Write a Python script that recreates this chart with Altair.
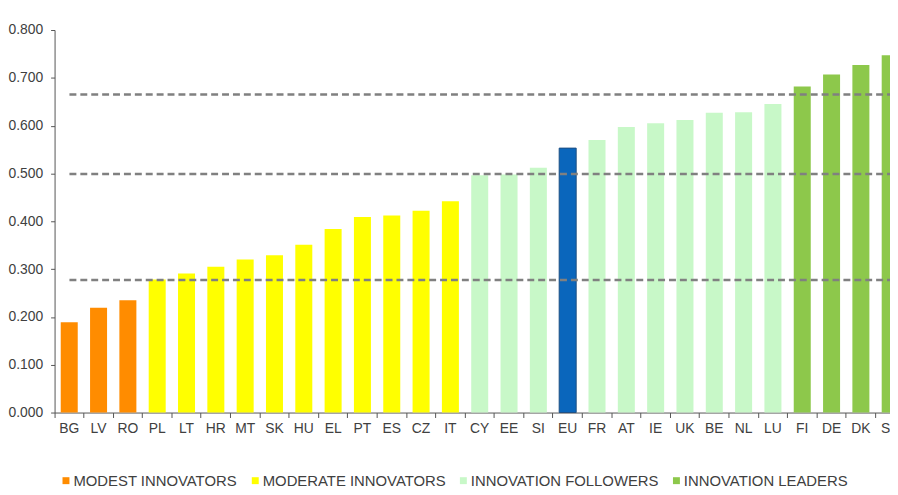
import altair as alt
import pandas as pd

countries = ["BG", "LV", "RO", "PL", "LT", "HR", "MT", "SK", "HU", "EL", "PT", "ES", "CZ", "IT",
             "CY", "EE", "SI", "EU", "FR", "AT", "IE", "UK", "BE", "NL", "LU", "FI", "DE", "DK", "SE"]
scores = [0.189, 0.219, 0.235, 0.278, 0.291, 0.305, 0.320, 0.329, 0.351, 0.384, 0.409, 0.412, 0.422, 0.442,
          0.496, 0.498, 0.512, 0.553, 0.570, 0.597, 0.605, 0.612, 0.627, 0.628, 0.645, 0.682, 0.707, 0.727, 0.747]
groups = (["MODEST INNOVATORS"] * 3 + ["MODERATE INNOVATORS"] * 11 + ["INNOVATION FOLLOWERS"] * 3
          + ["EU"] + ["INNOVATION FOLLOWERS"] * 7 + ["INNOVATION LEADERS"] * 4)

group_names = ["MODEST INNOVATORS", "MODERATE INNOVATORS", "INNOVATION FOLLOWERS", "INNOVATION LEADERS", "EU"]
group_colors = ["#FF8C00", "#FFFF00", "#C8F8C8", "#8DC84B", "#0A66BC"]

thresholds = [0.277, 0.499, 0.665]
y_ticks = [0.0, 0.1, 0.2, 0.3, 0.4, 0.5, 0.6, 0.7, 0.8]

bars_df = pd.DataFrame({"country": countries, "score": scores, "group": groups})
thr_df = pd.DataFrame({"t": thresholds})

FONT = "Liberation Sans"
TXT = "#404040"

xscale = alt.Scale(domain=countries, range=[0, 858], paddingInner=0, paddingOuter=0)
yscale = alt.Scale(domain=[0, 0.8])

bars = alt.Chart(bars_df).mark_bar(width=alt.RelativeBandSize(0.58), stroke="#1E4E82").encode(
    x=alt.X("country:N", sort=countries, scale=xscale, title=None,
            axis=alt.Axis(labelAngle=0, bandPosition=0, tickSize=5, labelFontSize=14,
                          labelPadding=4, labelColor=TXT, tickColor="#555555",
                          domainColor="#555555", labelFont=FONT)),
    y=alt.Y("score:Q", scale=yscale, title=None,
            axis=alt.Axis(values=y_ticks, format=".3f", grid=False, tickSize=4,
                          labelFontSize=14, labelPadding=8, labelColor=TXT,
                          tickColor="#555555", domainColor="#555555", labelFont=FONT)),
    color=alt.Color("group:N", scale=alt.Scale(domain=group_names, range=group_colors), title=None,
                    legend=alt.Legend(values=group_names[:4], orient="none", legendX=4, legendY=447,
                                      direction="horizontal", symbolType="square", symbolSize=49,
                                      symbolStrokeWidth=0, labelFontSize=15, labelFont=FONT,
                                      labelColor=TXT, labelOffset=0, columnPadding=10, padding=0,
                                      labelLimit=0)),
    strokeWidth=alt.condition("datum.group == 'EU'", alt.value(1), alt.value(0)),
)

rules = alt.Chart(thr_df).mark_rule(color="#808080", strokeWidth=2.5, strokeDash=[7, 4]).encode(
    y=alt.Y("t:Q", scale=yscale),
    x=alt.value(15),
    x2=alt.value(858),
)

chart = alt.layer(bars, rules).properties(
    width=843, height=386,
    autosize=alt.AutoSizeParams(type="none"),
    padding={"left": 47, "top": 20, "right": 0, "bottom": 81},
    background="white",
).configure_view(stroke=None)

chart.save("out.html", embed_options={"renderer": "svg", "actions": False})
